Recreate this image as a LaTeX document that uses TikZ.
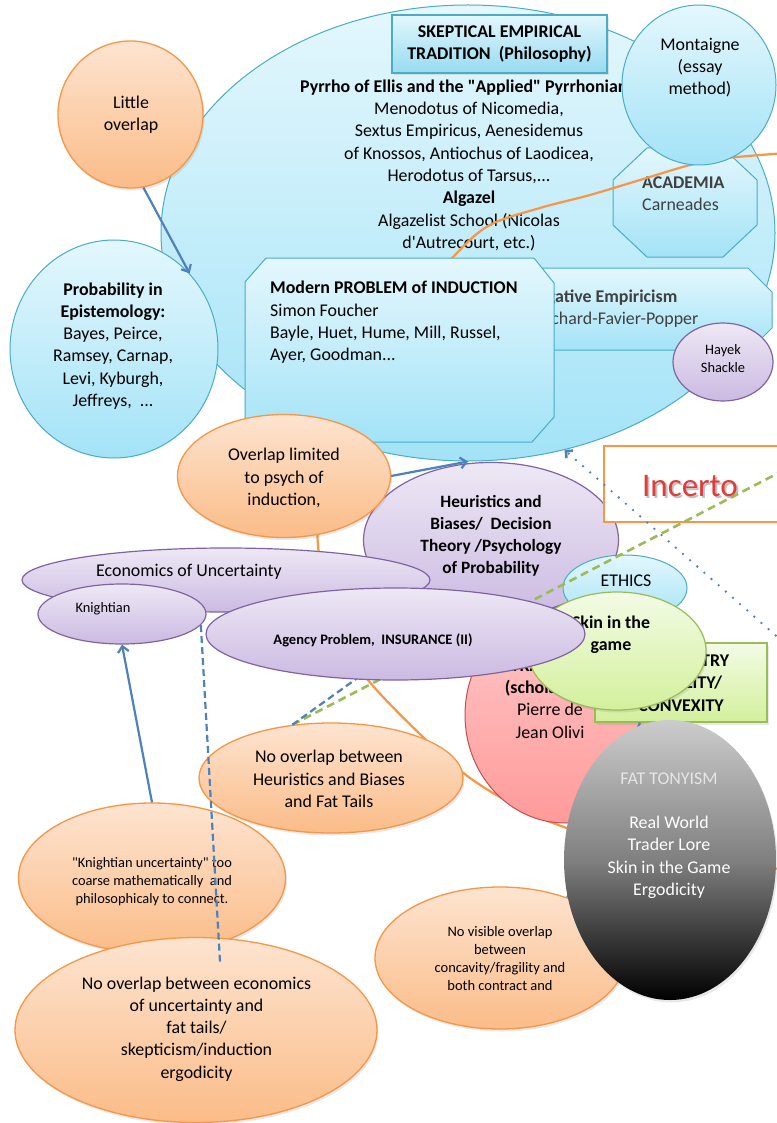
\documentclass[tikz,border=0pt]{standalone}
\usepackage{fontspec}
\setmainfont{Carlito}[Ligatures=TeXOff]
\usetikzlibrary{shapes.geometric,arrows.meta,shadows}
\definecolor{bluB}{HTML}{4BACC6}
\definecolor{bluT}{HTML}{E4F7FD}
\definecolor{bluD}{HTML}{A3E3F7}
\definecolor{orgB}{HTML}{F79646}
\definecolor{orgT}{HTML}{FDE4D0}
\definecolor{orgD}{HTML}{FBBC88}
\definecolor{purB}{HTML}{8064A2}
\definecolor{purT}{HTML}{EEE8F5}
\definecolor{purD}{HTML}{CBBAE2}
\definecolor{grnB}{HTML}{9BBB59}
\definecolor{grnT}{HTML}{F3FBE5}
\definecolor{grnD}{HTML}{D3F09C}
\definecolor{pnkB}{HTML}{C0504D}
\definecolor{pnkT}{HTML}{FFC9C9}
\definecolor{pnkD}{HTML}{FF9A9A}
\definecolor{arrB}{HTML}{4F81BD}
\definecolor{dkgrey}{HTML}{404040}
\definecolor{incred}{HTML}{E03C3C}
\begin{document}
\begin{tikzpicture}[x=1pt,y=-1pt,
  shd/.style={drop shadow={opacity=0.18, shadow xshift=1.5pt, shadow yshift=-2.5pt}},
  blu/.style={draw=bluB, line width=1pt, top color=bluT, bottom color=bluD},
  org/.style={draw=orgB, line width=1.3pt, top color=orgT, bottom color=orgD, shd},
  pur/.style={draw=purB, line width=1.2pt, top color=purT, bottom color=purD},
  grn/.style={draw=grnB, line width=1.2pt, top color=grnT, bottom color=grnD, shd},
  pnk/.style={draw=pnkB, line width=1pt, top color=pnkT, bottom color=pnkD},
  ell/.style={ellipse, inner sep=0pt},
  tx/.style={align=center, inner sep=0pt},
  fA/.style={font=\fontsize{17.9}{22.3}\selectfont},
  fB/.style={font=\bfseries\fontsize{17.9}{22.3}\selectfont},
  fH/.style={font=\bfseries\fontsize{17.3}{22}\selectfont},
  fS/.style={font=\fontsize{14.4}{18}\selectfont},
  fT/.style={font=\fontsize{14.5}{18}\selectfont},
  arrow/.style={draw=arrB, line width=2.2pt, -{Straight Barb[length=6pt,width=11pt]}},
  bdash/.style={draw=arrB, line width=2.2pt, dash pattern=on 7pt off 4pt},
  gdash/.style={draw=grnB, line width=2.6pt, dash pattern=on 8pt off 5pt},
]
\useasboundingbox (0,0) rectangle (776,1123);
\fill[white] (0,0) rectangle (776,1123);

% big skeptical ellipse
\node[ell, blu, minimum width=614pt, minimum height=456pt] (skep) at (468,233) {};
\node[rectangle, draw=bluB, line width=1.2pt, top color=bluT, bottom color=bluD!85!bluB, shd,
  minimum width=215pt, minimum height=58pt, inner sep=0pt, fB, align=center] (sktitle) at (499.5,44)
  {SKEPTICAL EMPIRICAL\\TRADITION \ (Philosophy)};
\node[fB, inner sep=0pt, anchor=west] (pyrrho) at (300,88) {Pyrrho of Ellis and the "Applied" Pyrrhonians};
\node[fA, tx] (names) at (469,176.5) {Menodotus of Nicomedia,\\Sextus Empiricus, Aenesidemus\\of Knossos, Antiochus of Laodicea,\\Herodotus of Tarsus,...\\\textbf{Algazel}\\Algazelist School (Nicolas\\d'Autrecourt, etc.)};

% academia octagon
\draw[blu] (647,148) -- (723,148) -- (757,180) -- (757,225) -- (723,257) -- (647,257) -- (613,225) -- (613,180) -- cycle;
\node[fA, anchor=west, align=left, inner sep=0pt, text=dkgrey] (acad) at (642,194) {\textbf{ACADEMIA}\\Carneades};

% big orange curve
\draw[orgB, line width=2.2pt] plot[smooth, tension=0.55] coordinates {(800,152) (727,158) (690,165) (640,180) (590,195) (540,208) (490,225) (455,255) (400,320) (350,420) (322,500) (318,545) (332,625) (368,680) (423,737) (470,778) (520,808) (564,827) (640,850) (720,864) (800,870)};

% Montaigne
\node[ell, blu, minimum width=154pt, minimum height=160pt] (mont) at (699,85) {};
\node[fA, tx] (montt) at (700,67.5) {Montaigne\\(essay\\method)};

% negative empiricism box
\draw[blu] (462,268) -- (748,268) -- (772,292) -- (772,328) -- (750,350) -- (462,350) -- (440,328) -- (440,290) -- cycle;
\node[fA, anchor=west, align=left, inner sep=0pt, text=dkgrey] (negemp) at (526,308.5) {\textbf{Negative Empiricism}\\Brochard-Favier-Popper};

% induction box
\draw[blu] (266,258) -- (534,258) -- (554,283) -- (554,417) -- (532,442) -- (266,442) -- (245,418) -- (245,282) -- cycle;
\node[fA, anchor=west, align=left, inner sep=0pt] (induct) at (270,322.5) {\textbf{Modern PROBLEM of INDUCTION}\\Simon Foucher\\Bayle, Huet, Hume, Mill, Russel,\\Ayer, Goodman...};

% Hayek
\node[ell, pur, minimum width=100pt, minimum height=78pt] (hayek) at (723,362) {};
\node[fS, tx] (hayekt) at (723,359) {Hayek\\Shackle};

% little overlap & probability
\node[ell, org, minimum width=145pt, minimum height=147pt] (little) at (130.5,114.5) {};
\node[fA, tx] (littlet) at (131,115) {Little\\overlap};
\node[ell, blu, minimum width=208pt, minimum height=218pt] (prob) at (114,349) {};
\node[fA, tx] (probt) at (113,346) {\textbf{Probability in}\\\textbf{Epistemology:}\\Bayes, Peirce,\\Ramsey, Carnap,\\Levi, Kyburgh,\\Jeffreys, \ ...};
\draw[arrow] (little.-80) -- (prob.45);

% heuristics
\node[ell, pur, minimum width=255pt, minimum height=155pt] (heur) at (491,540) {};
\node[fH, tx] (heurt) at (491,536) {Heuristics and\\Biases/ \ Decision\\Theory /Psychology\\of Probability};

% overlap limited
\node[ell, org, minimum width=213pt, minimum height=123pt] (ovl) at (284,476) {};
\node[fA, tx] (ovlt) at (284,478) {Overlap limited\\to psych of\\induction,};
\draw[arrow] (ovl.east) -- (skep.-90);

% Incerto
\node[rectangle, draw=orgB, line width=2.6pt, fill=white, minimum width=200pt, minimum height=76pt, inner sep=0pt] (incbox) at (704,484) {};
\node[font=\fontsize{33}{33}\selectfont, text=black!40, opacity=0.6, inner sep=0pt] (incsh) at (691.8,488) {Incerto};
\node[font=\fontsize{33}{33}\selectfont, text=incred, inner sep=0pt] (incerto) at (690,486) {Incerto};

% dotted arrow
\coordinate (dotend) at (790,648);
\draw[draw=arrB, line width=2.6pt, dash pattern=on 0pt off 9.5pt, line cap=round, -{Straight Barb[length=5pt,width=10pt,line cap=butt]}] (dotend) -- (skep.-66);

% economics
\node[ell, pur, minimum width=408pt, minimum height=64pt] (econ) at (226,580) {};
\node[fA, tx] (econt) at (189,572) {Economics of Uncertainty};
\node[ell, pur, minimum width=168pt, minimum height=60pt] (kn) at (122,614) {};
\node[fS, tx] (knt) at (103,609) {Knightian};

% pink
\node[ell, pnk, minimum width=200pt, minimum height=216pt] (pink) at (565,715) {};
\node[fA, tx] (pinkt) at (550,699) {\textbf{CONTRACT THEORY}\\\textbf{(scholastics)}\\Pierre de\\Jean Olivi};

% ethics
\node[ell, blu, minimum width=124pt, minimum height=66pt] (ethics) at (625,588) {};
\node[fA, tx] (ethicst) at (626,581) {ETHICS};

% no visible overlap
\node[ell, org, minimum width=250pt, minimum height=142pt] (nv) at (500,958) {};
\node[fT, tx] (nvt) at (500,959) {No visible overlap\\between\\concavity/fragility and\\both contract and};

% green box
\node[rectangle, grn, minimum width=172pt, minimum height=79pt, inner sep=0pt] (asym) at (681,682.5) {};
\draw[draw=arrB, line width=2.2pt] (nv.42) -- ([xshift=-41pt]asym.south);
\node[fB, tx] (asymt) at (681,683) {ASYMMETRY\\FRAGILITY/\\CONVEXITY};

% skin in the game
\node[ell, grn, minimum width=178pt, minimum height=118pt] (skin) at (617,651) {};
\node[fB, tx] (skint) at (611,635) {Skin in the\\game};

% no overlap heuristics
\node[ell, org, minimum width=264pt, minimum height=110pt] (nhb) at (331,778) {};
\node[fA, tx] (nhbt) at (329,779) {No overlap between\\Heuristics and Biases\\and Fat Tails};
\coordinate (gend) at (790,467);
\coordinate (bdend) at (420,633);
\draw[gdash] (nhb.126) -- (gend);
\draw[bdash] (nhb.126) -- (bdend);

% agency
\node[ell, pur, minimum width=379pt, minimum height=92pt] (agency) at (395.5,634) {};
\node[font=\bfseries\fontsize{14.5}{16}\selectfont, inner sep=0pt] (agencyt) at (373,640) {Agency Problem, \ INSURANCE (II)};

% knightian uncertainty
\node[ell, org, minimum width=267pt, minimum height=150pt] (ku) at (152,878) {};
\node[fS, tx] (kut) at (152,882) {"Knightian uncertainty" too\\coarse mathematically \ and\\philosophicaly to connect.};
\draw[arrow] (ku.north) -- (kn.south);

% no overlap economics
\node[ell, org, minimum width=362pt, minimum height=185pt] (noe) at (196,1030) {};
\node[fA, tx] (noet) at (196.5,1029) {No overlap between economics\\of uncertainty and\\fat tails/\\skepticism/induction\\ergodicity};
\coordinate (dashend) at (220,962);
\draw[bdash] (kn.-8) -- (dashend);

% fat tony
\node[ell, top color=black!20, bottom color=black, middle color=black!50, shd, minimum width=212pt, minimum height=280pt] (fat) at (670,860) {};
\node[fA, tx, text=white] (fatt) at (669,835.5) {\textcolor{black!10}{FAT TONYISM}\\\mbox{}\\Real World\\Trader Lore\\Skin in the Game\\Ergodicity};
\end{tikzpicture}
\end{document}
